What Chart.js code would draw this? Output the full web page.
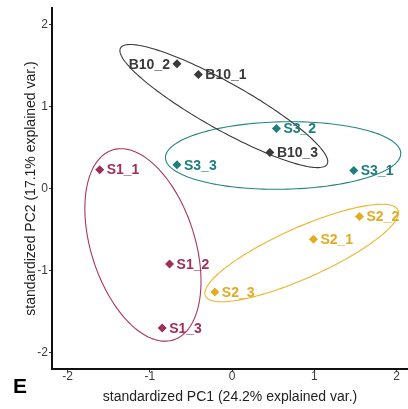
<!DOCTYPE html>
<html>
<head>
<meta charset="utf-8">
<script src="https://cdn.jsdelivr.net/npm/chart.js@4/dist/chart.umd.min.js"></script>
<style>
  html, body { margin: 0; padding: 0; background: #fff; }
  #wrap { width: 408px; height: 409px; }
</style>
</head>
<body>
<div id="wrap"><canvas id="myChart"></canvas></div>
<script>
// sample scores on the first two components
var samples = ['S1_1', 'S1_2', 'S1_3', 'S2_1', 'S2_2', 'S2_3', 'S3_1', 'S3_2', 'S3_3', 'B10_1', 'B10_2', 'B10_3'];
var pc1 = [-1.61, -0.76, -0.85, 0.99, 1.55, -0.21, 1.48, 0.54, -0.67, -0.41, -0.67, 0.46];
var pc2 = [0.23, -0.92, -1.70, -0.62, -0.34, -1.26, 0.22, 0.73, 0.29, 1.39, 1.52, 0.44];
var groups = ['S1', 'S1', 'S1', 'S2', 'S2', 'S2', 'S3', 'S3', 'S3', 'B10', 'B10', 'B10'];
var labelSide = ['right', 'right', 'right', 'right', 'right', 'right', 'right', 'right', 'right', 'right', 'left', 'right'];

// group order, colours and normal ellipses (centre, semi axes, angle in degrees)
var groupNames = ['S1', 'S2', 'S3', 'B10'];
var groupColors = ['#9e2f58', '#e2ab22', '#1c7f7b', '#3a3a3a'];
var ellipseColors = ['#a8365f', '#f0b52a', '#25857f', '#3a3a3a'];
var ellCx = [-1.084, 0.847, 0.621, -0.10];
var ellCy = [-0.688, -0.786, 0.402, 1.005];
var ellA = [1.215, 1.283, 1.431, 1.442];
var ellB = [0.631, 0.307, 0.411, 0.285];
var ellAngle = [107.8, 24.1, 1.1, -29.4];

var xTicks = [-2, -1, 0, 1, 2];
var yTicks = [-2, -1, 0, 1, 2];

var FONT = "'Liberation Sans', Arial, sans-serif";

var datasets = groupNames.map((g, gi) => {
  var pts = [];
  samples.forEach((s, i) => {
    if (groups[i] === g) pts.push({x: pc1[i], y: pc2[i], label: s, side: labelSide[i]});
  });
  return {
    label: g,
    data: pts,
    backgroundColor: groupColors[gi],
    borderColor: groupColors[gi],
    pointStyle: 'rectRot',
    pointRadius: 4.5,
    borderWidth: 0,
  };
});

var ellipsePlugin = {
  id: 'ellipses',
  beforeDatasetsDraw(chart) {
    var ctx = chart.ctx, xs = chart.scales.x, ys = chart.scales.y;
    ctx.save();
    ctx.lineWidth = 1.1;
    groupNames.forEach((g, gi) => {
      var th = ellAngle[gi] * Math.PI / 180;
      ctx.beginPath();
      for (var k = 0; k <= 180; k++) {
        var t = k / 180 * 2 * Math.PI;
        var ex = ellA[gi] * Math.cos(t), ey = ellB[gi] * Math.sin(t);
        var dx = ellCx[gi] + ex * Math.cos(th) - ey * Math.sin(th);
        var dy = ellCy[gi] + ex * Math.sin(th) + ey * Math.cos(th);
        var px = xs.getPixelForValue(dx), py = ys.getPixelForValue(dy);
        if (k === 0) ctx.moveTo(px, py); else ctx.lineTo(px, py);
      }
      ctx.closePath();
      ctx.strokeStyle = ellipseColors[gi];
      ctx.stroke();
    });
    ctx.restore();
  },
  afterDatasetsDraw(chart) {
    var ctx = chart.ctx;
    ctx.save();
    ctx.font = 'bold 14px ' + FONT;
    ctx.textBaseline = 'middle';
    chart.data.datasets.forEach((ds, di) => {
      var meta = chart.getDatasetMeta(di);
      ctx.fillStyle = groupColors[di];
      ds.data.forEach((p, i) => {
        var el = meta.data[i];
        if (p.side === 'left') {
          ctx.textAlign = 'right';
          ctx.fillText(p.label, el.x - 7, el.y + 1);
        } else {
          ctx.textAlign = 'left';
          ctx.fillText(p.label, el.x + 7, el.y + 1);
        }
      });
    });
    // panel letter
    ctx.fillStyle = '#000';
    ctx.font = 'bold 21px ' + FONT;
    ctx.textAlign = 'left';
    ctx.textBaseline = 'alphabetic';
    ctx.fillText('E', 13, 393);
    ctx.restore();
  }
};

new Chart(document.getElementById('myChart'), {
  type: 'scatter',
  data: { datasets: datasets },
  options: {
    responsive: true,
    maintainAspectRatio: false,
    animation: false,
    layout: { autoPadding: false, padding: { top: 8, right: 0, left: 0, bottom: 0 } },
    plugins: {
      legend: { display: false },
      tooltip: { enabled: false },
    },
    scales: {
      x: {
        type: 'linear',
        min: -2.19,
        max: 2.14,
        afterFit: (s) => { s.height = 40; s.paddingLeft = 0; s.paddingRight = 0; },
        afterBuildTicks: (s) => { s.ticks = xTicks.map(v => ({value: v})); },
        border: { display: true, color: '#111', width: 2 },
        grid: { drawOnChartArea: false, drawTicks: true, tickLength: 3, color: '#333' },
        ticks: { color: '#3a3a3a', font: { family: FONT, size: 12, lineHeight: 1 }, padding: -1, maxRotation: 0 },
        title: { display: true, text: 'standardized PC1 (24.2% explained var.)', color: '#222',
                 font: { family: FONT, size: 14 }, padding: { top: 0, bottom: 3 } },
      },
      y: {
        type: 'linear',
        min: -2.2,
        max: 2.2,
        afterFit: (s) => { s.width = 52; s.paddingTop = 0; s.paddingBottom = 0; },
        afterBuildTicks: (s) => { s.ticks = yTicks.map(v => ({value: v})); },
        border: { display: true, color: '#111', width: 2 },
        grid: { drawOnChartArea: false, drawTicks: true, tickLength: 3, color: '#333' },
        ticks: { color: '#3a3a3a', font: { family: FONT, size: 12 }, padding: 1 },
        title: { display: true, text: 'standardized PC2 (17.1% explained var.)', color: '#222',
                 font: { family: FONT, size: 14 }, padding: { top: 23, bottom: 0 } },
      },
    },
  },
  plugins: [ellipsePlugin],
});
</script>
</body>
</html>
